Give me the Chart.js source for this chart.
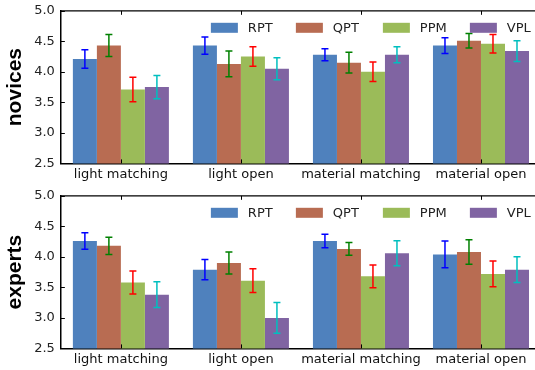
<!DOCTYPE html>
<html>
<head>
<meta charset="utf-8">
<script src="https://cdn.jsdelivr.net/npm/chart.js@4.4.0/dist/chart.umd.min.js"></script>
<style>
html, body { margin: 0; padding: 0; background: #fff; overflow: hidden; }
canvas { display: block; margin-top: -3px; }
</style>
</head>
<body>
<canvas id="novices-chart" width="541" height="188"></canvas>
<canvas id="experts-chart" width="541" height="188"></canvas>
<script>
// Categories, series and tick labels
const categories = ['light matching', 'light open', 'material matching', 'material open'];
const seriesNames = ['RPT', 'QPT', 'PPM', 'VPL'];
const yTicks = [2.5, 3.0, 3.5, 4.0, 4.5, 5.0];

// Novices: mean score per category, one array per method
const novicesRPT = [4.21, 4.43, 4.28, 4.43];
const novicesQPT = [4.43, 4.13, 4.15, 4.51];
const novicesPPM = [3.71, 4.25, 4.00, 4.46];
const novicesVPL = [3.75, 4.05, 4.28, 4.34];
// Novices: error bar half-lengths
const novicesRPTErr = [0.15, 0.14, 0.10, 0.13];
const novicesQPTErr = [0.18, 0.21, 0.17, 0.12];
const novicesPPMErr = [0.20, 0.16, 0.16, 0.15];
const novicesVPLErr = [0.19, 0.18, 0.13, 0.17];

// Experts
const expertsRPT = [4.26, 3.79, 4.26, 4.04];
const expertsQPT = [4.18, 3.90, 4.13, 4.08];
const expertsPPM = [3.58, 3.61, 3.68, 3.72];
const expertsVPL = [3.38, 3.00, 4.06, 3.79];
const expertsRPTErr = [0.135, 0.165, 0.11, 0.22];
const expertsQPTErr = [0.14, 0.18, 0.105, 0.20];
const expertsPPMErr = [0.19, 0.195, 0.185, 0.21];
const expertsVPLErr = [0.21, 0.25, 0.205, 0.21];

const barColors = ['#4f81bd', '#b86c52', '#9bbb59', '#8064a2'];
const errColors = ['#0000ff', '#008000', '#ff0000', '#00bfbf'];

const tickFont = { family: 'DejaVu Sans', size: 13 };

// error bars, inward ticks, top spine and an in-plot legend
const extrasPlugin = {
    id: 'extras',
    afterDatasetsDraw(chart) {
        const ctx = chart.ctx;
        const y = chart.scales.y;
        ctx.save();
        ctx.lineWidth = 1.5;
        chart.data.datasets.forEach((ds, i) => {
            const meta = chart.getDatasetMeta(i);
            ctx.strokeStyle = errColors[i];
            meta.data.forEach((bar, j) => {
                const v = ds.data[j], e = ds.errors[j];
                const yTop = y.getPixelForValue(v + e);
                const yBot = y.getPixelForValue(v - e);
                ctx.beginPath();
                ctx.moveTo(bar.x, yTop); ctx.lineTo(bar.x, yBot);
                ctx.moveTo(bar.x - 3.5, yTop); ctx.lineTo(bar.x + 3.5, yTop);
                ctx.moveTo(bar.x - 3.5, yBot); ctx.lineTo(bar.x + 3.5, yBot);
                ctx.stroke();
            });
        });
        ctx.restore();
    },
    afterDraw(chart) {
        const ctx = chart.ctx;
        const area = chart.chartArea;
        const x = chart.scales.x, y = chart.scales.y;
        ctx.save();
        ctx.strokeStyle = '#000';
        // top spine
        ctx.lineWidth = 1.2;
        ctx.beginPath();
        ctx.moveTo(area.left, area.top); ctx.lineTo(area.right, area.top);
        ctx.stroke();
        // inward ticks
        ctx.lineWidth = 1;
        ctx.beginPath();
        yTicks.forEach(v => {
            const py = Math.round(y.getPixelForValue(v)) + 0.5;
            ctx.moveTo(area.left, py); ctx.lineTo(area.left + 4, py);
        });
        categories.forEach((c, i) => {
            const px = Math.round(x.getPixelForValue(i)) + 0.5;
            ctx.moveTo(px, area.bottom); ctx.lineTo(px, area.bottom - 4);
            ctx.moveTo(px, area.top); ctx.lineTo(px, area.top + 4);
        });
        ctx.stroke();
        // legend inside the plot
        const legendX = [150, 235, 322, 409];
        ctx.font = '13px "DejaVu Sans"';
        ctx.textBaseline = 'middle';
        seriesNames.forEach((name, i) => {
            const lx = area.left + legendX[i];
            const ly = area.top + 12;
            ctx.fillStyle = barColors[i];
            ctx.fillRect(lx, ly, 27, 10);
            ctx.fillStyle = '#222';
            ctx.fillText(name, lx + 37, ly + 5.5);
        });
        ctx.restore();
    }
};

function makeChart(canvasId, title, values, errors) {
    return new Chart(document.getElementById(canvasId), {
        type: 'bar',
        data: {
            labels: categories,
            datasets: seriesNames.map((name, i) => ({
                label: name,
                data: values[i],
                errors: errors[i],
                backgroundColor: barColors[i],
                borderWidth: 0,
                categoryPercentage: 0.8,
                barPercentage: 1.0
            }))
        },
        options: {
            responsive: false,
            animation: false,
            devicePixelRatio: 1,
            layout: { padding: { top: 0, right: 0, left: 3, bottom: 0 } },
            plugins: {
                legend: { display: false },
                tooltip: { enabled: false }
            },
            scales: {
                x: {
                    offset: true,
                    grid: { display: true, drawOnChartArea: false, drawTicks: false },
                    border: { display: true, color: '#000', width: 1.5 },
                    ticks: { font: tickFont, color: '#111', padding: 3, maxRotation: 0, autoSkip: false }
                },
                y: {
                    min: 2.5,
                    max: 5.0,
                    afterBuildTicks: scale => { scale.ticks = yTicks.map(v => ({ value: v })); },
                    grid: { display: true, drawOnChartArea: false, drawTicks: false },
                    border: { display: true, color: '#000', width: 1.5 },
                    ticks: { font: tickFont, color: '#222', padding: 6, callback: v => Number(v).toFixed(1) },
                    title: {
                        display: true,
                        text: title,
                        font: { family: 'Liberation Sans', size: 21, weight: 'bold' },
                        color: '#000',
                        padding: { top: 0, bottom: 0 }
                    }
                }
            }
        },
        plugins: [extrasPlugin]
    });
}

makeChart('novices-chart', 'novices',
    [novicesRPT, novicesQPT, novicesPPM, novicesVPL],
    [novicesRPTErr, novicesQPTErr, novicesPPMErr, novicesVPLErr]);
makeChart('experts-chart', 'experts',
    [expertsRPT, expertsQPT, expertsPPM, expertsVPL],
    [expertsRPTErr, expertsQPTErr, expertsPPMErr, expertsVPLErr]);
</script>
</body>
</html>
